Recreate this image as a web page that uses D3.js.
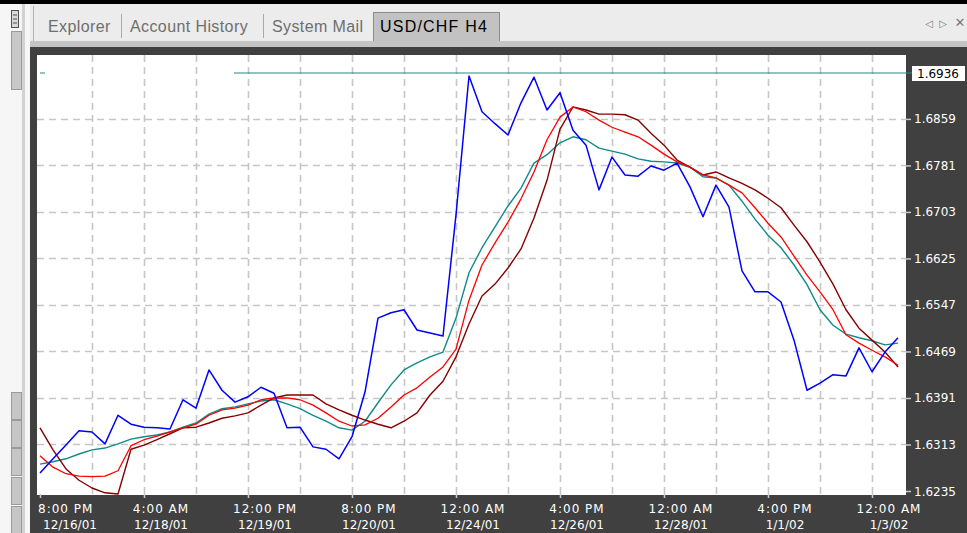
<!DOCTYPE html>
<html><head><meta charset="utf-8">
<script src="https://cdn.jsdelivr.net/npm/d3@7/dist/d3.min.js"></script>
<style>
html,body{margin:0;padding:0;background:#fff;overflow:hidden}
svg{display:block}
</style></head><body>
<svg id="c" width="967" height="533"></svg>
<script>
// Terminal tabs
const tabs = ["Explorer", "Account History", "System Mail", "USD/CHF H4"];

// Time axis labels (one every 8 H4 bars)
const timeLabels = ["8:00 PM","4:00 AM","12:00 PM","8:00 PM","12:00 AM","4:00 PM","12:00 AM","4:00 PM","12:00 AM"];
const dateLabels = ["12/16/01","12/18/01","12/19/01","12/20/01","12/24/01","12/26/01","12/28/01","1/1/02","1/3/02"];

// Price scale labels
const priceTicks = [1.6235,1.6313,1.6391,1.6469,1.6547,1.6625,1.6703,1.6781,1.6859];
const bidPrice = 1.6936;

// USD/CHF H4 close line
const closePrice = [1.6265,1.6289,1.6312,1.6336,1.6334,1.6314,1.6362,1.6347,1.6342,1.6341,
  1.6339,1.6388,1.6374,1.6438,1.6404,1.6384,1.6393,1.6409,1.6399,1.6341,
  1.6342,1.6309,1.6305,1.6289,1.6326,1.6401,1.6525,1.6534,1.6539,1.6505,
  1.6500,1.6495,1.6698,1.6931,1.6871,1.6851,1.6832,1.6886,1.6929,1.6874,
  1.6903,1.6840,1.6815,1.6740,1.6795,1.6765,1.6763,1.6780,1.6773,1.6785,
  1.6745,1.6695,1.6748,1.6711,1.6604,1.6569,1.6569,1.6552,1.6488,1.6404,
  1.6416,1.6430,1.6428,1.6475,1.6435,1.6468,1.6492];

// Moving averages
const maTeal = [1.6280,1.6284,1.6289,1.6297,1.6304,1.6307,1.6314,1.6322,1.6326,1.6329,
  1.6334,1.6342,1.6349,1.6364,1.6373,1.6376,1.6381,1.6386,1.6388,1.6381,
  1.6373,1.6362,1.6352,1.6341,1.6337,1.6352,1.6383,1.6413,1.6438,1.6450,
  1.6460,1.6468,1.6525,1.6601,1.6643,1.6678,1.6713,1.6743,1.6785,1.6799,
  1.6819,1.6829,1.6824,1.6810,1.6805,1.6800,1.6792,1.6788,1.6787,1.6785,
  1.6778,1.6762,1.6760,1.6748,1.6721,1.6691,1.6664,1.6643,1.6614,1.6581,
  1.6539,1.6513,1.6498,1.6492,1.6487,1.6480,1.6483];

const maRed = [1.6294,1.6275,1.6264,1.6260,1.6259,1.6260,1.6269,1.6311,1.6321,1.6327,
  1.6334,1.6341,1.6347,1.6362,1.6371,1.6374,1.6379,1.6388,1.6391,1.6391,
  1.6388,1.6379,1.6366,1.6352,1.6344,1.6346,1.6357,1.6376,1.6396,1.6408,
  1.6426,1.6443,1.6473,1.6555,1.6614,1.6651,1.6686,1.6725,1.6770,1.6824,
  1.6862,1.6879,1.6871,1.6857,1.6845,1.6837,1.6829,1.6815,1.6800,1.6787,
  1.6778,1.6765,1.6760,1.6748,1.6735,1.6710,1.6684,1.6661,1.6629,1.6597,
  1.6569,1.6539,1.6497,1.6483,1.6471,1.6460,1.6446];

const maMaroon = [1.6341,1.6304,1.6272,1.6253,1.6240,1.6232,1.6230,1.6305,1.6312,1.6321,
  1.6331,1.6341,1.6342,1.6349,1.6357,1.6361,1.6366,1.6379,1.6391,1.6396,
  1.6396,1.6396,1.6381,1.6371,1.6362,1.6354,1.6347,1.6341,1.6352,1.6366,
  1.6396,1.6419,1.6460,1.6515,1.6562,1.6582,1.6609,1.6641,1.6693,1.6756,
  1.6842,1.6879,1.6874,1.6867,1.6867,1.6866,1.6857,1.6835,1.6815,1.6790,
  1.6778,1.6765,1.6770,1.6760,1.6751,1.6740,1.6726,1.6710,1.6681,1.6653,
  1.6619,1.6582,1.6539,1.6508,1.6488,1.6468,1.6443];

const svg = d3.select("#c");
const W = 967, H = 533;
const plot = {left: 37, right: 906, top: 55, bottom: 495};
const BARS_PER_LABEL = 8, BARS_PER_GRID = 4;

// ---- window chrome ----
svg.append("rect").attr("width", W).attr("height", H).attr("fill", "#f2f2f2");
svg.append("rect").attr("x", 0).attr("y", 4).attr("width", W).attr("height", 37).attr("fill", "#ececec");
svg.append("rect").attr("x", 0).attr("y", 0).attr("width", W).attr("height", 4).attr("fill", "#000");

// left side strip with scroll pieces
svg.append("rect").attr("x", 0).attr("y", 4).attr("width", 30).attr("height", H).attr("fill", "#f6f6f6");
svg.append("rect").attr("x", 22).attr("y", 4).attr("width", 3).attr("height", H).attr("fill", "#d2d2d2");
svg.append("rect").attr("x", 11.5).attr("y", 10.5).attr("width", 7).attr("height", 17)
  .attr("fill", "#d8d8d8").attr("stroke", "#505050");
[15, 19, 23].forEach(v => svg.append("line").attr("x1", 13).attr("x2", 17).attr("y1", v).attr("y2", v).attr("stroke", "#505050"));
svg.append("rect").attr("x", 11.5).attr("y", 31.5).attr("width", 10).attr("height", 58)
  .attr("fill", "#c8c8c8").attr("stroke", "#9a9a9a");
[392, 420, 448, 477, 506].forEach(v => svg.append("rect").attr("x", 11.5).attr("y", v + 0.5).attr("width", 10).attr("height", 27)
  .attr("fill", "#c6c6c6").attr("stroke", "#9a9a9a"));

// tab strip
svg.append("line").attr("x1", 33.5).attr("x2", 33.5).attr("y1", 6).attr("y2", 41).attr("stroke", "#b4b4b4");
svg.append("rect").attr("x", 373.5).attr("y", 12.5).attr("width", 126).attr("height", 29)
  .attr("fill", "#c2c2c2").attr("stroke", "#8c8c8c");
[121.5, 263.5].forEach(v => svg.append("line").attr("x1", v).attr("x2", v).attr("y1", 14).attr("y2", 38).attr("stroke", "#aaaaaa"));
const tabX = [48, 130, 272, 380];
svg.selectAll("text.tab").data(tabs).join("text")
  .attr("class", "tab")
  .attr("x", (d, i) => tabX[i]).attr("y", 32)
  .attr("font-family", "Liberation Sans, Arial, sans-serif").attr("font-size", 16)
  .attr("letter-spacing", (d, i) => i === 3 ? 1.2 : 0.4)
  .attr("fill", (d, i) => i === 3 ? "#000" : "#6e6e6e")
  .text(d => d);
// window buttons: scroll left / right, close
[["◁", 929, 10], ["▷", 943, 10], ["✕", 960, 13]].forEach(([t, xx, fs]) =>
  svg.append("text").attr("x", xx).attr("y", 27).attr("text-anchor", "middle")
    .attr("font-family", "DejaVu Sans, sans-serif").attr("font-size", fs).attr("fill", "#7a7a7a").text(t));

// band under tabs and dark chart frame
svg.append("rect").attr("x", 30).attr("y", 41).attr("width", W - 30).attr("height", 6).attr("fill", "#c4c4c4");
svg.append("rect").attr("x", 30).attr("y", 47).attr("width", W - 30).attr("height", H - 47).attr("fill", "#404040");
svg.append("rect").attr("x", plot.left).attr("y", plot.top)
  .attr("width", plot.right - plot.left).attr("height", plot.bottom - plot.top).attr("fill", "#fff");

// ---- scales ----
const nBars = closePrice.length;
const x = d3.scaleLinear().domain([0, nBars - 1]).range([40, 898]);
const y = d3.scaleLinear().domain([1.6235, bidPrice]).range([491, 73]);

const g = svg.append("g");
g.append("clipPath").attr("id", "clip").append("rect")
  .attr("x", plot.left).attr("y", plot.top).attr("width", plot.right - plot.left).attr("height", plot.bottom - plot.top);

// grid
const gridBars = d3.range(BARS_PER_GRID, nBars, BARS_PER_GRID);
g.append("g").selectAll("line").data(gridBars).join("line")
  .attr("x1", d => Math.round(x(d)) + 0.5).attr("x2", d => Math.round(x(d)) + 0.5)
  .attr("y1", plot.top).attr("y2", plot.bottom)
  .attr("stroke", "#c6c6c6").attr("stroke-width", 1.6).attr("stroke-dasharray", "7,5");
g.append("g").selectAll("line").data(priceTicks.slice(1)).join("line")
  .attr("x1", plot.left).attr("x2", plot.right)
  .attr("y1", d => Math.round(y(d)) + 0.5).attr("y2", d => Math.round(y(d)) + 0.5)
  .attr("stroke", "#c6c6c6").attr("stroke-width", 1.6).attr("stroke-dasharray", "7,5");

// bid line
g.append("line").attr("x1", 234).attr("x2", 912).attr("y1", y(bidPrice)).attr("y2", y(bidPrice))
  .attr("stroke", "#2a8585").attr("stroke-width", 1);
g.append("line").attr("x1", 40).attr("x2", 45).attr("y1", y(bidPrice)).attr("y2", y(bidPrice))
  .attr("stroke", "#2a8585").attr("stroke-width", 1);

// series
const line = d3.line().x((d, i) => x(i)).y(d => y(d));
const series = [
  {data: maTeal, color: "#108a8a", w: 1.4},
  {data: maMaroon, color: "#860000", w: 1.4},
  {data: maRed, color: "#ff0000", w: 1.3},
  {data: closePrice, color: "#0000ff", w: 1.5}
];
g.append("g").attr("clip-path", "url(#clip)").selectAll("path").data(series).join("path")
  .attr("d", d => line(d.data)).attr("fill", "none")
  .attr("stroke", d => d.color).attr("stroke-width", d => d.w).attr("stroke-linejoin", "round");

// ---- bottom axis ----
const labelBars = d3.range(0, nBars, BARS_PER_LABEL);
const xAxis = d3.axisBottom(x).tickValues(labelBars).tickSize(4).tickFormat("");
const xa = svg.append("g").attr("transform", `translate(0,${plot.bottom - 1})`).call(xAxis);
xa.select(".domain").remove();
xa.selectAll(".tick line").attr("stroke", "#c8c8c8").attr("stroke-width", 1.5);

const fontAxis = "DejaVu Sans, Verdana, sans-serif";
labelBars.forEach((b, i) => {
  const cx = x(b) + 17;
  const t1 = svg.append("text").attr("y", 513).attr("font-family", fontAxis).attr("font-size", 12)
    .attr("letter-spacing", 1).attr("fill", "#fff").text(timeLabels[i]);
  const t2 = svg.append("text").attr("y", 529).attr("font-family", fontAxis).attr("font-size", 12)
    .attr("fill", "#fff").text(dateLabels[i]);
  if (i === 0) {
    t1.attr("x", 38); t2.attr("x", 43);
  } else {
    t1.attr("x", cx).attr("text-anchor", "middle");
    t2.attr("x", cx).attr("text-anchor", "middle");
  }
});

// ---- right price axis ----
const yAxis = d3.axisRight(y).tickValues(priceTicks).tickSize(5).tickFormat("");
const ya = svg.append("g").attr("transform", `translate(${plot.right},0)`).call(yAxis);
ya.select(".domain").remove();
ya.selectAll(".tick line").attr("stroke", "#c8c8c8").attr("stroke-width", 1.5);
svg.append("g").selectAll("text").data(priceTicks).join("text")
  .attr("x", 914).attr("y", d => y(d) + 4.5)
  .attr("font-family", fontAxis).attr("font-size", 12).attr("fill", "#fff")
  .text(d => d.toFixed(4));

// bid price box
svg.append("rect").attr("x", 912).attr("y", y(bidPrice) - 7).attr("width", 53).attr("height", 15).attr("fill", "#fff");
svg.append("text").attr("x", 917).attr("y", y(bidPrice) + 4.5)
  .attr("font-family", fontAxis).attr("font-size", 12).attr("fill", "#000").text(bidPrice.toFixed(4));
</script>
</body></html>
